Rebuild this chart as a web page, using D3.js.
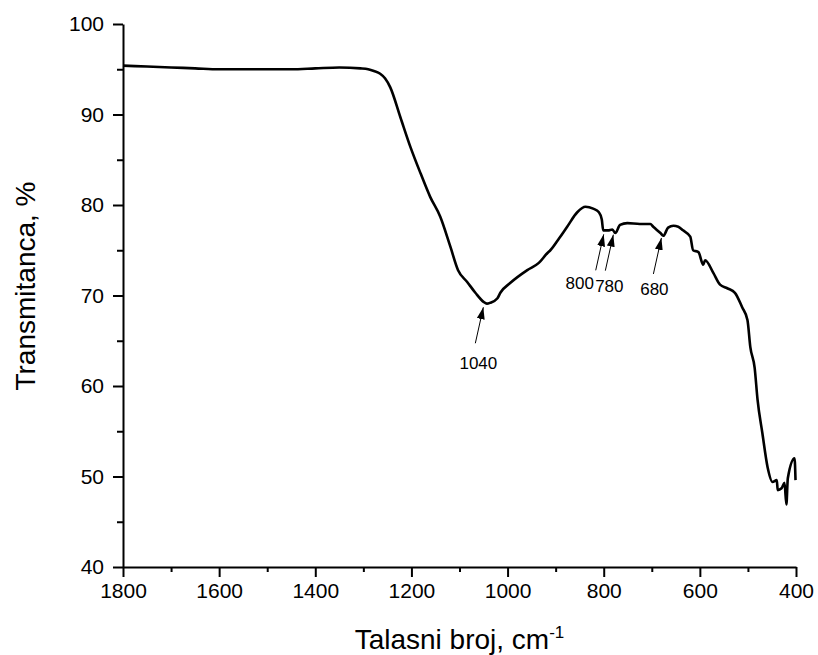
<!DOCTYPE html>
<html>
<head>
<meta charset="utf-8">
<script src="https://cdn.jsdelivr.net/npm/d3@7"></script>
<style>
  body { margin: 0; background: #fff; }
  text { font-family: "Liberation Sans", Arial, sans-serif; fill: #000; }
</style>
</head>
<body>
<div id="chart"></div>
<script>
// wavenumber (cm-1) and transmittance (%)
var wavenumber = [1800, 1750, 1700, 1650, 1600, 1550, 1500, 1450, 1400, 1350, 1306, 1290, 1278, 1265, 1255, 1244,
    1223, 1202, 1181, 1161, 1140, 1119, 1103, 1084, 1067, 1050, 1043, 1036, 1021, 1015, 994, 959, 935, 917, 911,
    893, 876, 855, 838, 822, 810, 804, 801, 791, 782, 776, 766, 751, 725, 703, 697, 682, 676, 666, 655, 645, 635, 620,
    614, 603, 593, 589, 572, 558, 543, 527, 512, 501, 495, 486, 480, 470, 459, 449, 440, 438, 430,
    424, 420, 417, 403, 401];
var transmittance = [95.4, 95.3, 95.2, 95.1, 95.0, 95.0, 95.0, 95.0, 95.1, 95.2, 95.1, 95.0, 94.8, 94.5, 94.0, 93.0,
    89.7, 86.4, 83.5, 80.9, 78.7, 75.4, 72.8, 71.5, 70.3, 69.3, 69.1, 69.2, 69.7, 70.3, 71.4, 72.8, 73.6, 74.7, 75.0,
    76.3, 77.6, 79.2, 79.8, 79.6, 79.2, 78.4, 77.2, 77.2, 77.3, 76.9, 77.8, 78.0, 77.9, 77.9, 77.6, 76.9, 76.6, 77.5, 77.7, 77.6, 77.2, 76.5,
    75.0, 74.8, 73.4, 73.9, 72.5, 71.2, 70.8, 70.3, 68.7, 67.3, 64.3, 62.0, 58.5, 54.8, 51.0, 49.4, 49.6, 48.5, 48.7,
    49.3, 46.9, 49.8, 52.0, 49.6];

var peaks = [1040, 800, 780, 680];

var xTicks = [1800, 1600, 1400, 1200, 1000, 800, 600, 400];
var yTicks = [40, 50, 60, 70, 80, 90, 100];

var data = wavenumber.map(function(w, i) { return { w: w, t: transmittance[i] }; });

var W = 818, H = 655;
var margin = { left: 123, right: 22, top: 24, bottom: 88 };

var x = d3.scaleLinear().domain([1800, 400]).range([margin.left, W - margin.right]);
var y = d3.scaleLinear().domain([40, 100]).range([H - margin.bottom, margin.top]);

var svg = d3.select("#chart").append("svg")
    .attr("width", W)
    .attr("height", H);

// axes with minor ticks in between
var xMinor = d3.range(1700, 399, -200);
var yMinor = d3.range(45, 100, 10);

svg.append("g")
    .attr("transform", "translate(0," + y(40) + ")")
    .call(d3.axisBottom(x).tickValues(xMinor).tickSize(5).tickFormat(""))
    .call(function(g) { g.select(".domain").remove(); })
    .selectAll("line").attr("stroke-width", 2);

var gx = svg.append("g")
    .attr("transform", "translate(0," + y(40) + ")")
    .call(d3.axisBottom(x).tickValues(xTicks).tickSize(10).tickSizeOuter(0).tickPadding(6).tickFormat(d3.format("d")));
gx.select(".domain").attr("stroke-width", 2);
gx.selectAll("line").attr("stroke-width", 2);
gx.selectAll("text").style("font-size", "21px");

svg.append("g")
    .attr("transform", "translate(" + x(1800) + ",0)")
    .call(d3.axisLeft(y).tickValues(yMinor).tickSize(6).tickFormat(""))
    .call(function(g) { g.select(".domain").remove(); })
    .selectAll("line").attr("stroke-width", 2);

var gy = svg.append("g")
    .attr("transform", "translate(" + x(1800) + ",0)")
    .call(d3.axisLeft(y).tickValues(yTicks).tickSize(10).tickSizeOuter(0).tickPadding(9));
gy.select(".domain").attr("stroke-width", 2);
gy.selectAll("line").attr("stroke-width", 2);
gy.selectAll("text").style("font-size", "21px");

// axis titles
var xt = svg.append("text")
    .attr("x", (x(1800) + x(400)) / 2)
    .attr("y", 649)
    .attr("text-anchor", "middle")
    .style("font-size", "28px");
xt.append("tspan").text("Talasni broj, cm");
xt.append("tspan").attr("dy", -11).style("font-size", "17px").text("-1");

svg.append("text")
    .attr("transform", "translate(35," + 286 + ") rotate(-90)")
    .attr("text-anchor", "middle")
    .style("font-size", "28px")
    .text("Transmitanca, %");

// spectrum
var line = d3.line()
    .x(function(d) { return x(d.w); })
    .y(function(d) { return y(d.t); })
    .curve(d3.curveMonotoneX);

svg.append("path")
    .datum(data)
    .attr("fill", "none")
    .attr("stroke", "#000")
    .attr("stroke-width", 2.6)
    .attr("stroke-linejoin", "round")
    .attr("d", line);

// peak arrows
function curveAt(w) {
    for (var i = 0; i < data.length - 1; i++) {
        var a = data[i], b = data[i + 1];
        if (w <= a.w && w >= b.w) {
            return a.t + (b.t - a.t) * (a.w - w) / (a.w - b.w);
        }
    }
    return data[data.length - 1].t;
}

var labelShift = { 1040: [3, 26], 800: [-16, 19], 780: [4, 21], 680: [1, 21] };

svg.append("defs").append("marker")
    .attr("id", "head")
    .attr("viewBox", "0 0 12 8")
    .attr("refX", 12).attr("refY", 4)
    .attr("markerWidth", 12).attr("markerHeight", 8)
    .attr("markerUnits", "userSpaceOnUse")
    .attr("orient", "auto")
    .append("path").attr("d", "M0,0L12,4L0,8Z").attr("fill", "#000");

peaks.forEach(function(p) {
    var tx = x(p) - (p === 1040 ? 5 : 0);
    var ty = y(curveAt(p)) + 4;
    var sx = tx - 8, sy = ty + 36;
    svg.append("line")
        .attr("x1", sx).attr("y1", sy)
        .attr("x2", tx).attr("y2", ty)
        .attr("stroke", "#000")
        .attr("stroke-width", 1)
        .attr("marker-end", "url(#head)");
    svg.append("text")
        .attr("x", sx + labelShift[p][0])
        .attr("y", sy + labelShift[p][1])
        .attr("text-anchor", "middle")
        .style("font-size", "17px")
        .text(p);
});
</script>
</body>
</html>
